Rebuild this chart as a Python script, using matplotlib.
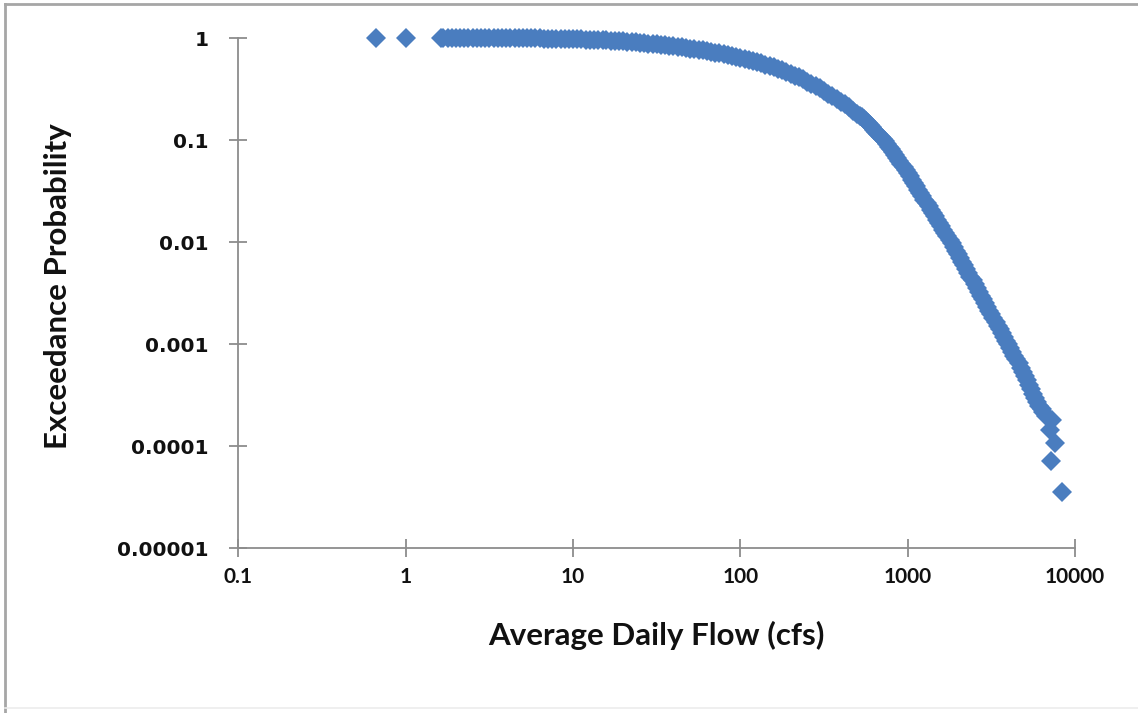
import matplotlib
matplotlib.use("Agg")
import matplotlib.pyplot as plt
from matplotlib.lines import Line2D

# ---- data: average daily flow (cfs) vs exceedance probability ----
low_flow = [0.664, 1.0]
low_prob = [1.0, 1.0]

body_flow = [1.62, 1.68, 1.78, 1.88, 2.00, 2.11, 2.24, 2.37, 2.51, 2.66,
             2.82, 2.99, 3.16, 3.35, 3.55, 3.76, 3.98, 4.22, 4.47, 4.73,
             5.01, 5.31, 5.62, 5.96, 6.31, 6.68, 7.08, 7.50, 7.94, 8.41,
             8.91, 9.44, 10.0, 10.6, 11.2, 11.9, 12.6, 13.3, 14.1, 15.0,
             15.8, 16.8, 17.8, 18.8, 20.0, 21.1, 22.4, 23.7, 25.1, 26.6,
             28.2, 29.9, 31.6, 33.5, 35.5, 37.6, 39.8, 42.2, 44.7, 47.3,
             50.1, 53.1, 56.2, 59.6, 63.1, 66.8, 70.8, 75.0, 79.4, 84.1,
             89.1, 94.4, 100, 106, 112, 119, 126, 133, 141, 150,
             158, 168, 178, 188, 200, 211, 224, 237, 251, 266,
             282, 299, 316, 335, 355, 376, 398, 422, 447, 473,
             501]
body_prob = [1.0, 1.0, 0.9999, 0.9999, 0.9998, 0.9995, 0.9994, 0.9992, 0.9990, 0.9988,
             0.9978, 0.9975, 0.9971, 0.9967, 0.9963, 0.9959, 0.9954, 0.9950, 0.9945, 0.9941,
             0.9934, 0.9926, 0.9917, 0.9909, 0.9900, 0.9880, 0.9859, 0.9838, 0.9817, 0.9797,
             0.9773, 0.9750, 0.9727, 0.9705, 0.9678, 0.9646, 0.9614, 0.9582, 0.9550, 0.9509,
             0.9459, 0.9410, 0.9362, 0.9313, 0.9251, 0.9186, 0.9121, 0.9057, 0.8994, 0.8909,
             0.8825, 0.8742, 0.8660, 0.8574, 0.8478, 0.8383, 0.8288, 0.8195, 0.8093, 0.7983,
             0.7874, 0.7767, 0.7661, 0.7545, 0.7421, 0.7299, 0.7179, 0.7061, 0.6925, 0.6789,
             0.6655, 0.6526, 0.6393, 0.6244, 0.6098, 0.5956, 0.5817, 0.5670, 0.5495, 0.5326,
             0.5164, 0.5006, 0.4829, 0.4638, 0.4457, 0.4280, 0.4112, 0.3923, 0.3731, 0.3549,
             0.3377, 0.3199, 0.3016, 0.2843, 0.2682, 0.2522, 0.2371, 0.2229, 0.2096, 0.1946,
             0.1800]

steep_flow = [516, 531, 546, 562, 579, 596, 613, 631, 649, 668,
              688, 708, 729, 750, 772, 794, 818, 841, 866, 891,
              917, 944, 972, 1000, 1029, 1059, 1090, 1122, 1155, 1189,
              1223, 1259, 1296, 1334, 1373, 1413, 1454, 1496, 1540, 1585,
              1631, 1679, 1728, 1778, 1830, 1884, 1939, 1995, 2054, 2113,
              2175, 2239, 2304, 2371, 2441, 2512, 2585, 2661, 2738, 2818,
              2901, 2985, 3073, 3162, 3255, 3350, 3447, 3548, 3652, 3758,
              3868, 3981, 4097, 4217, 4340, 4467, 4597, 4732, 4870, 5012,
              5158, 5309, 5464, 5623, 5788, 5957, 6131, 6310, 6438, 6750]
steep_prob = [0.1731, 0.1665, 0.1602, 0.1530, 0.1459, 0.1391, 0.1328, 0.1267, 0.1207, 0.1142,
              0.1081, 0.1023, 0.09681, 0.09162, 0.08630, 0.08077, 0.07561, 0.07082, 0.06629, 0.06202,
              0.05805, 0.05433, 0.05086, 0.04761, 0.04418, 0.04099, 0.03801, 0.03525, 0.03268, 0.03030,
              0.02810, 0.02605, 0.02416, 0.02240, 0.02077, 0.01926, 0.01786, 0.01656, 0.01535, 0.01423,
              0.01320, 0.01224, 0.01135, 0.01049, 0.009680, 0.008933, 0.008245, 0.007609, 0.006991, 0.006421,
              0.005896, 0.005415, 0.004973, 0.004569, 0.004196, 0.003855, 0.003540, 0.003253, 0.002988, 0.002745,
              0.002521, 0.002315, 0.002127, 0.001953, 0.001794, 0.001648, 0.001514, 0.001390, 0.001277, 0.001173,
              0.001078, 0.000990, 0.000909, 0.000835, 0.000767, 0.000705, 0.000645, 0.000587, 0.000534, 0.000486,
              0.000442, 0.000400, 0.000362, 0.000327, 0.000297, 0.000272, 0.000249, 0.000228, 0.000214, 0.000196]

tail_flow = [7288, 7089, 7594, 7187, 8361]
tail_prob = [1.79e-4, 1.43e-4, 1.07e-4, 7.14e-5, 3.57e-5]

x_ticks = [0.1, 1, 10, 100, 1000, 10000]
x_tick_labels = ["0.1", "1", "10", "100", "1000", "10000"]
y_ticks = [0.00001, 0.0001, 0.001, 0.01, 0.1, 1]
y_tick_labels = ["0.00001", "0.0001", "0.001", "0.01", "0.1", "1"]

flow = low_flow + body_flow + steep_flow + tail_flow
exceed_prob = low_prob + body_prob + steep_prob + tail_prob
assert len(flow) == len(exceed_prob)

W, H = 1138, 713
fig = plt.figure(figsize=(W / 100, H / 100), dpi=100)
fig.patch.set_facecolor("white")

# chart-area border (Excel style)
fig.add_artist(Line2D([5 / W, 5 / W], [0, 1 - 4 / H], transform=fig.transFigure,
                      color="#a6a6a6", lw=2))
fig.add_artist(Line2D([5 / W, 1], [1 - 4 / H, 1 - 4 / H], transform=fig.transFigure,
                      color="#a6a6a6", lw=2))
fig.add_artist(Line2D([5 / W, 1], [5 / H, 5 / H], transform=fig.transFigure,
                      color="#ececec", lw=1.2))

left, right = 238.5 / W, 1075 / W
top, bottom = 1 - 38 / H, 1 - 548 / H
ax = fig.add_axes([left, bottom, right - left, top - bottom])
ax.set_xscale("log")
ax.set_yscale("log")
ax.set_xlim(0.1, 10000)
ax.set_ylim(0.00001, 1)

ax.plot(flow, exceed_prob, linestyle="none", marker="D", markersize=10.2,
        color="#4a7dbf", markeredgewidth=0, clip_on=False)

for s in ("top", "right"):
    ax.spines[s].set_visible(False)
for s in ("left", "bottom"):
    ax.spines[s].set_color("#8c8c8c")
    ax.spines[s].set_linewidth(1.3)

ax.set_xticks(x_ticks)
ax.set_xticklabels(x_tick_labels, fontfamily="Lato", fontweight="bold", fontsize=15)
ax.set_yticks(y_ticks)
ax.set_yticklabels(y_tick_labels, fontfamily="DejaVu Sans", fontweight="bold", fontsize=14.5)
ax.minorticks_off()
ax.tick_params(axis="both", which="major", direction="inout", length=13,
               width=1.3, color="#8c8c8c", labelcolor="#111111")
ax.tick_params(axis="x", pad=7)
ax.tick_params(axis="y", pad=15)

fig.text(656.5 / W, 1 - 635 / H, "Average Daily Flow (cfs)", fontfamily="Lato",
         fontweight="bold", fontsize=22.5, color="#111111", ha="center", va="center")
fig.text(58 / W, 1 - 286.5 / H, "Exceedance Probability", fontfamily="Lato",
         fontweight="bold", fontsize=22.5, color="#111111", ha="center", va="center",
         rotation=90)

fig.savefig("out.png", dpi=100, facecolor="white")
